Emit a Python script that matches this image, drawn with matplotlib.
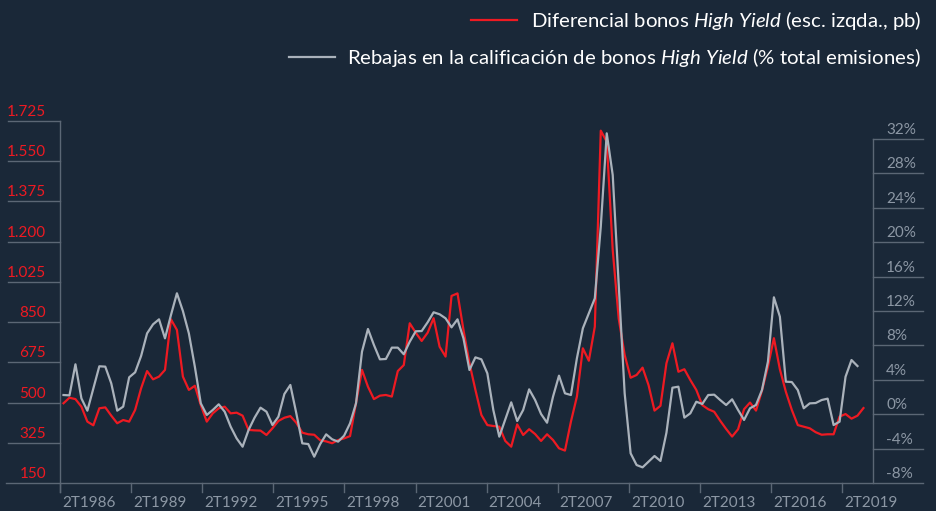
import numpy as np
import matplotlib
matplotlib.use("Agg")
import matplotlib.pyplot as plt
from matplotlib.transforms import offset_copy

plt.rcParams['font.family'] = ['Lato', 'DejaVu Sans']
plt.rcParams['mathtext.fontset'] = 'custom'
plt.rcParams['mathtext.rm'] = 'Lato'
plt.rcParams['mathtext.it'] = 'Lato:italic'

# quarterly data, 2T1986 onwards
spread = [497, 521, 515, 482, 417, 401, 475, 479, 443, 410,
          424, 417, 468, 562, 637, 601, 613, 642, 862, 816,
          613, 555, 573, 489, 417, 453, 475, 482, 453, 456,
          443, 381, 379, 378, 359, 388, 420, 434, 441, 412,
          369, 362, 360, 336, 331, 323, 337, 344, 354, 497,
          642, 569, 515, 530, 533, 526, 637, 663, 845, 804,
          768, 804, 867, 743, 700, 964, 975, 816, 671, 555,
          446, 402, 398, 395, 333, 308, 405, 359, 384, 363,
          333, 362, 337, 301, 291, 417, 526, 736, 682, 830,
          1683, 1635, 1164, 866, 707, 608, 620, 652, 576, 465,
          486, 671, 758, 634, 645, 598, 555, 489, 471, 460,
          421, 385, 352, 384, 471, 500, 465, 552, 656, 780,
          645, 547, 468, 402, 395, 388, 371, 360, 362, 362,
          439, 450, 430, 443, 476]

downgrades = [2.23, 2.19, 5.80, 1.84, 0.41, 3.01, 5.57, 5.53, 3.59, 0.41,
              0.88, 4.29, 4.87, 6.77, 9.40, 10.45, 11.03, 8.82, 11.53, 14.06,
              12.0, 9.40, 5.53, 1.26, -0.09, 0.49, 1.15, 0.29, -1.45, -2.81,
              -3.78, -1.84, -0.41, 0.76, 0.29, -1.26, -0.29, 2.35, 3.40, 0.10,
              -3.39, -3.47, -4.94, -3.47, -2.34, -2.92, -3.19, -2.50, -1.06, 1.26,
              7.27, 9.91, 8.05, 6.38, 6.42, 7.74, 7.74, 6.97, 8.43, 9.64,
              9.67, 10.69, 11.85, 11.62, 11.15, 10.10, 11.03, 8.82, 5.14, 6.61,
              6.38, 4.75, 0.49, -2.61, -0.60, 1.38, -0.79, 0.49, 2.89, 1.65,
              0.02, -0.99, 2.04, 4.48, 2.43, 2.23, 6.50, 9.99, 11.73, 13.47,
              21.80, 32.66, 27.81, 15.22, 2.43, -4.55, -5.91, -6.18, -5.52, -4.86,
              -5.44, -2.15, 3.08, 3.20, -0.40, 0.10, 1.45, 1.19, 2.23, 2.27,
              1.65, 1.07, 1.73, 0.49, -0.67, 0.69, 1.07, 2.81, 6.11, 13.59,
              11.34, 3.78, 3.74, 2.81, 0.69, 1.26, 1.30, 1.65, 1.81, -1.26,
              -0.87, 4.36, 6.30, 5.60]

tick_labels = ['2T1986', '2T1989', '2T1992', '2T1995', '2T1998', '2T2001',
               '2T2004', '2T2007', '2T2010', '2T2013', '2T2016', '2T2019']
left_ticks = [150, 325, 500, 675, 850, 1025, 1200, 1375, 1550, 1725]
left_labels = ['150', '325', '500', '675', '850', '1.025', '1.200', '1.375', '1.550', '1.725']
right_ticks = [-8, -4, 0, 4, 8, 12, 16, 20, 24, 28, 32]
right_labels = ['-8%', '-4%', '0%', '4%', '8%', '12%', '16%', '20%', '24%', '28%', '32%']

BG = '#1a2838'
RED = '#ee1a22'
GREY = '#aab2bb'
AXC = '#5b6775'
TXT = '#8c97a4'

W, H = 937, 511
X0, X1, YB, YT = 60, 873.3, 483, 121


def ax_x(px):
    return (px - X0) / (X1 - X0)


def ax_y(py):
    return (YB - py) / (YB - YT)


fig = plt.figure(figsize=(W / 100, H / 100), dpi=100, facecolor=BG)
ax = fig.add_axes([X0 / W, (H - YB) / H, (X1 - X0) / W, (YB - YT) / H])
ax2 = ax.twinx()
ax.set_axis_off()
ax2.set_axis_off()

ax.set_xlim(-0.586, 135.65)
ax.set_ylim(150, 1725)
ax2.set_ylim(-8, -8 + (YB - YT) / 8.6)

ax.plot(np.arange(len(spread)), spread, color=RED, lw=1.6, zorder=3)
ax2.plot(np.arange(len(downgrades)), downgrades, color=GREY, lw=1.6, zorder=3)

# axis lines
line_kw = dict(color=AXC, lw=1.0, clip_on=False)
ax.plot([ax_x(6), ax_x(923)], [0, 0], transform=ax.transAxes, **line_kw)
ax.plot([0, 0], [ax_y(492), 1], transform=ax.transAxes, **line_kw)
ax.plot([1, 1], [0, ax_y(139)], transform=ax.transAxes, **line_kw)

ytr = ax.get_yaxis_transform()
for v, lab in zip(left_ticks, left_labels):
    if v != left_ticks[0]:
        ax.plot([ax_x(8), 0], [v, v], transform=ytr, **line_kw)
    ax.text(ax_x(46), v, lab, transform=offset_copy(ytr, fig=fig, y=5, units='dots'),
            ha='right', va='baseline', color=RED, fontsize=11)

ytr2 = ax2.get_yaxis_transform()
for v, lab in zip(right_ticks, right_labels):
    if v != right_ticks[0]:
        ax2.plot([1, ax_x(923)], [v, v], transform=ytr2, **line_kw)
    ax2.text(ax_x(886), v, lab, transform=offset_copy(ytr2, fig=fig, y=5, units='dots'),
             ha='left', va='baseline', color=TXT, fontsize=11)

xtr = ax.get_xaxis_transform()
tick_pos = np.arange(len(tick_labels)) * 11.91 - 0.586
for p, lab in zip(tick_pos, tick_labels):
    ax.plot([p, p], [0, ax_y(492)], transform=xtr, **line_kw)
    ax.text(p, ax_y(496), lab, transform=offset_copy(xtr, fig=fig, x=2, units='dots'),
            ha='left', va='top', color=TXT, fontsize=11)

# legend
fig.lines.append(plt.Line2D([471 / W, 517 / W], [1 - 20 / H, 1 - 20 / H],
                            color=RED, lw=1.6, transform=fig.transFigure))
fig.lines.append(plt.Line2D([289 / W, 335 / W], [1 - 57 / H, 1 - 57 / H],
                            color=GREY, lw=1.6, transform=fig.transFigure))
fig.text(921 / W, 1 - 26.5 / H,
         r'Diferencial bonos $\mathit{High\ Yield}$ (esc. izqda., pb)',
         ha='right', va='baseline', color='white', fontsize=14.7)
fig.text(921 / W, 1 - 64 / H,
         r'Rebajas en la calificación de bonos $\mathit{High\ Yield}$ (% total emisiones)',
         ha='right', va='baseline', color='white', fontsize=14.7)

fig.savefig('out.png', dpi=100, facecolor=BG)
